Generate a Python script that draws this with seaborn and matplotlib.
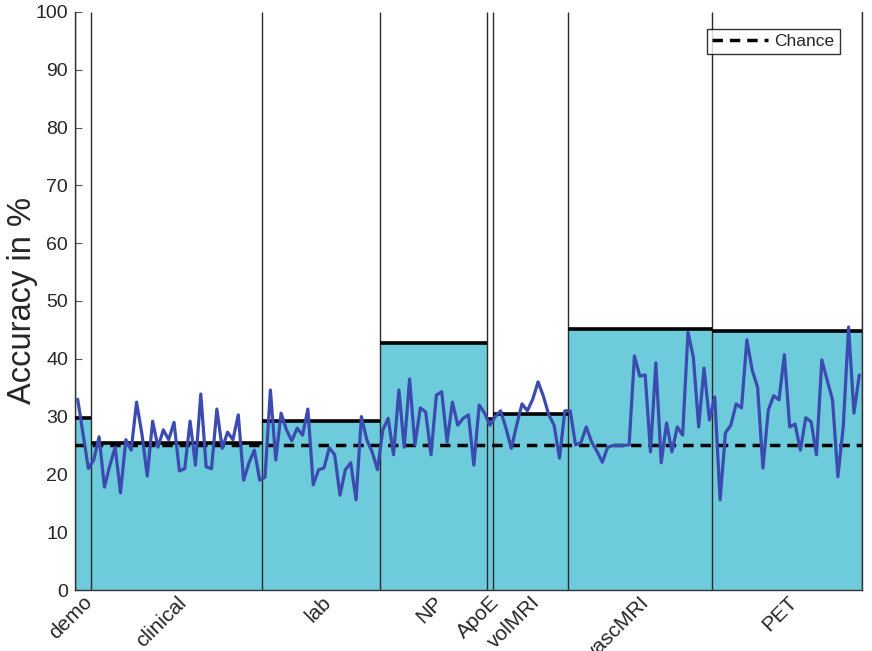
import numpy as np
import pandas as pd
import matplotlib
matplotlib.use("Agg")
import matplotlib.pyplot as plt
import seaborn as sns

# ---- data ----
groups = ["demo", "clinical", "lab", "NP", "ApoE", "volMRI", "vascMRI", "PET"]
group_counts = [3, 32, 22, 20, 1, 14, 27, 28]
group_acc = [29.8, 25.5, 29.3, 42.7, 29.6, 30.4, 45.2, 44.8]

demo_vals = [33, 27, 21]
clinical_vals = [22.5, 26.5, 17.8, 21.5, 24.7, 16.8, 26, 24.2, 32.5, 27, 19.7, 29.2,
                 24.7, 27.7, 26, 29, 20.6, 21, 29.2, 21.6, 33.9, 21.3, 21, 31.3,
                 24.5, 27.3, 26, 30.3, 19, 22, 24.2, 19]
lab_vals = [19.5, 34.6, 22.5, 30.6, 27.7, 25.8, 28, 26.8, 31.3, 18.2, 20.8, 21.1,
            24.6, 23.4, 16.4, 20.8, 22, 15.6, 30, 26, 23.9, 20.8]
np_vals = [27.7, 29.7, 23.4, 34.6, 24.7, 36.5, 25.1, 31.5, 30.8, 23.4, 33.7, 34.3,
           25.6, 32.5, 28.5, 29.7, 30.3, 21.6, 32, 30.6]
apoe_vals = [28.5]
volmri_vals = [30, 31, 28, 24.5, 28.5, 32.2, 31, 33, 36, 33.5, 30.3, 28.5, 22.8, 31]
vascmri_vals = [31, 25.1, 25.5, 28.2, 25.6, 24, 22.1, 24.7, 25, 25, 25, 25.1, 40.5,
                37, 37.2, 23.9, 39.3, 22, 28.9, 23.9, 28.2, 26.8, 44.6, 40.3, 28.2,
                38.4, 29.4]
pet_vals = [33.4, 15.6, 27.2, 28.5, 32.2, 31.5, 43.3, 38, 35.1, 21.1, 31.1, 33.6,
            32.9, 40.7, 28.2, 28.7, 24.2, 29.8, 29.1, 23.4, 39.8, 36.3, 32.9, 19.6,
            28.2, 45.5, 30.6, 37.2]
chance = 25

feature_acc = (demo_vals + clinical_vals + lab_vals + np_vals + apoe_vals +
               volmri_vals + vascmri_vals + pet_vals)
n_feat = len(feature_acc)
df = pd.DataFrame({"feature": np.arange(n_feat) + 0.5, "acc": feature_acc})

edges = np.concatenate([[0], np.cumsum(group_counts)])
lefts = edges[:-1]
widths = np.array(group_counts)
centers = lefts + widths / 2

# ---- plot ----
sns.set_style("white")
plt.rcParams["font.family"] = ["Liberation Sans", "DejaVu Sans"]
fig = plt.figure(figsize=(8.72, 6.51), dpi=100)
ax = fig.add_axes([0.086, 0.0937, 0.9025, 0.888])

ax.bar(lefts, group_acc, width=widths, align="edge", color="#6dcbdb",
       edgecolor="none", zorder=1)
ax.vlines(edges, 0, 100, color="#2b2b2b", lw=1.0, zorder=2)
ax.hlines(group_acc, lefts, edges[1:], color="black", lw=2.6, zorder=3)

ax.plot([0, n_feat], [chance, chance], color="black", lw=2.5,
        dashes=(3, 2), zorder=4, label="Chance")
sns.lineplot(data=df, x="feature", y="acc", ax=ax, color="#3b4bb0", lw=2.3,
             zorder=5)

ax.set_xlim(0, n_feat)
ax.set_ylim(0, 100)
ax.set_yticks(np.arange(0, 101, 10))
ax.set_xticks(centers)
ax.set_xticklabels(groups, rotation=45, ha="right", rotation_mode="anchor",
                   fontsize=15)
ax.tick_params(axis="y", labelsize=14, direction="in", length=5, color="#555555",
               left=True, pad=5)
ax.tick_params(axis="x", direction="in", length=4, color="#bbbbbb", bottom=True,
               pad=2)
ax.set_xlabel("")
ax.set_ylabel("Accuracy in %", fontsize=23.5)
ax.yaxis.set_label_coords(-0.047, 0.5)

for s in ax.spines.values():
    s.set_color("#333333")
    s.set_linewidth(1.0)
ax.spines["top"].set_visible(False)

leg = ax.legend(loc="upper right", bbox_to_anchor=(0.972, 0.971), fontsize=12.5,
                frameon=True, fancybox=False, handlelength=3.2,
                borderpad=0.3, handletextpad=0.4, borderaxespad=0)
leg.get_frame().set_edgecolor("black")
leg.get_frame().set_linewidth(1.0)

fig.savefig("out.png", dpi=100)
